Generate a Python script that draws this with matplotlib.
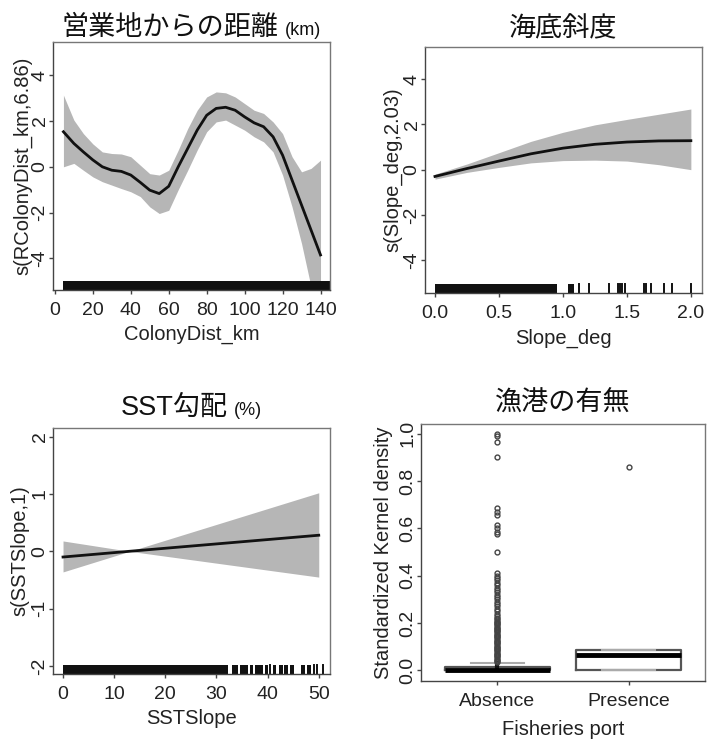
import matplotlib
matplotlib.use("Agg")
import matplotlib.pyplot as plt

plt.rcParams['font.family'] = ['Liberation Sans', 'DejaVu Sans']
plt.rcParams['axes.unicode_minus'] = False
CJK = ['Liberation Sans', 'Noto Sans CJK JP', 'DejaVu Sans']

# ---------------- data ----------------
# Panel 1: colony distance smooth
cd_x = [4.5, 10, 15, 20, 25, 30, 35, 40, 45, 50, 55, 60, 65, 70, 75, 80, 85, 90,
        95, 100, 105, 110, 115, 120, 125, 130, 135, 140]
cd_fit = [1.53, 1.02, 0.65, 0.30, 0.00, -0.15, -0.20, -0.36, -0.68, -1.02, -1.17, -0.85,
          0.00, 0.80, 1.60, 2.25, 2.55, 2.60, 2.47, 2.18, 1.92, 1.75, 1.31, 0.51,
          -0.58, -1.67, -2.76, -3.85]
cd_up = [3.13, 2.04, 1.45, 1.00, 0.65, 0.58, 0.56, 0.44, 0.07, -0.30, -0.36, -0.15,
         0.73, 1.67, 2.47, 3.05, 3.27, 3.23, 3.05, 2.76, 2.47, 2.33, 1.96, 1.45,
         0.44, -0.22, -0.07, 0.29]
cd_lo = [0.00, 0.15, -0.15, -0.44, -0.65, -0.80, -0.95, -1.09, -1.30, -1.75, -2.04, -1.90,
         -1.00, -0.15, 0.73, 1.53, 1.96, 2.04, 1.82, 1.60, 1.31, 1.09, 0.65, -0.36,
         -1.75, -3.35, -5.24, -7.00]
cd_rug_dense = [(4.5, 145.0)]
cd_rug_ticks = []

# Panel 2: slope smooth
sl_x = [0.0, 0.25, 0.5, 0.75, 1.0, 1.25, 1.5, 1.75, 2.0]
sl_fit = [-0.30, 0.05, 0.38, 0.70, 0.95, 1.12, 1.22, 1.27, 1.28]
sl_up = [-0.20, 0.25, 0.75, 1.25, 1.65, 1.98, 2.22, 2.45, 2.68]
sl_lo = [-0.42, -0.12, 0.10, 0.30, 0.40, 0.42, 0.38, 0.22, 0.00]
sl_rug_dense = [(0.0, 0.955), (1.04, 1.09)]
sl_rug_ticks = [1.125, 1.20, 1.36, 1.43, 1.445, 1.46, 1.485, 1.63, 1.65, 1.69, 1.79, 1.85, 2.0]

# Panel 3: SST slope (linear)
ss_x = [0.0, 13.0, 50.0]
ss_fit = [-0.10, 0.00, 0.28]
ss_up = [0.18, 0.00, 1.02]
ss_lo = [-0.36, 0.00, -0.45]
ss_rug_dense = [(0.0, 32.3), (33.1, 34.2), (34.6, 36.2), (36.6, 37.1), (37.6, 39.1),
                (39.4, 40.0), (41.0, 41.6), (42.2, 43.0), (43.3, 43.9), (44.3, 45.2),
                (46.5, 47.4), (47.7, 48.4)]
ss_rug_ticks = [40.4, 49.0, 49.7, 50.8]

# Panel 4: boxplot
bp_labels = ['Absence', 'Presence']
bp_q1 = [0.0, 0.003]
bp_med = [0.0, 0.064]
bp_q3 = [0.014, 0.087]
bp_whislo = [0.0, 0.0]
bp_whishi = [0.033, 0.087]
abs_fliers = [0.035, 0.04, 0.045, 0.05, 0.055, 0.06, 0.065, 0.07, 0.075, 0.08, 0.085,
              0.09, 0.095, 0.10, 0.105, 0.11, 0.115, 0.12, 0.125, 0.13, 0.135, 0.14,
              0.145, 0.15, 0.155, 0.16, 0.165, 0.17, 0.175, 0.18, 0.185, 0.19, 0.195,
              0.20, 0.205, 0.21, 0.215, 0.22, 0.23, 0.24, 0.25, 0.26, 0.27, 0.28,
              0.29, 0.30, 0.31, 0.32, 0.33, 0.34, 0.35, 0.36, 0.37, 0.38, 0.39, 0.40,
              0.41, 0.50, 0.575, 0.585, 0.60, 0.615, 0.655, 0.67, 0.685, 0.90, 0.965,
              0.99, 1.0]
pre_fliers = [0.86]

# ---------------- layout ----------------
W, H = 715, 739
fig = plt.figure(figsize=(W / 100, H / 100), dpi=100)


def add_ax(l, t, r, b):
    return fig.add_axes([l / W, 1 - b / H, (r - l) / W, (b - t) / H])


ax1 = add_ax(53, 42, 330, 290)
ax2 = add_ax(425, 47, 702, 293)
ax3 = add_ax(53, 428, 330, 674)
ax4 = add_ax(421, 424, 705, 681)

BAND = '#b6b6b6'
FRAME = '#777777'
TICKFS = 14
LABFS = 14.5
TXT = '#222222'


def style(ax, xlab, ylab, xlab_top_px, ylab_right_px):
    for s in ax.spines.values():
        s.set_color(FRAME)
        s.set_linewidth(1.0)
    ax.spines['left'].set_color('#444444')
    ax.spines['bottom'].set_color('#444444')
    ax.tick_params(direction='out', length=3.2, width=1, color='#444444',
                   labelsize=TICKFS, labelcolor=TXT)
    ax.tick_params(axis='x', pad=5.5)
    ax.tick_params(axis='y', pad=0, labelrotation=90)
    for lab in ax.get_yticklabels():
        lab.set_verticalalignment('center')
    ax.set_xlabel(xlab, fontsize=LABFS, color=TXT)
    ax.set_ylabel(ylab, fontsize=LABFS, color=TXT)
    bb = ax.get_position()
    hpx = bb.height * H
    wpx = bb.width * W
    ax.xaxis.set_label_coords(0.5, -xlab_top_px / hpx)
    ax.yaxis.set_label_coords(-ylab_right_px / wpx, 0.5)


def rug(ax, dense, ticks):
    for a, b in dense:
        ax.axvspan(a, b, ymin=0, ymax=0.036, color='#111111', lw=0)
    for x in ticks:
        ax.axvline(x, ymin=0, ymax=0.036, color='#111111', lw=1.4)


def smooth(ax, x, fit, lo, up):
    ax.fill_between(x, lo, up, color=BAND, lw=0)
    ax.plot(x, fit, color='#111111', lw=2.0)


# Panel 1
smooth(ax1, cd_x, cd_fit, cd_lo, cd_up)
rug(ax1, cd_rug_dense, cd_rug_ticks)
ax1.set_xlim(-1, 145)
ax1.set_ylim(-5.38, 5.45)
ax1.set_xticks([0, 20, 40, 60, 80, 100, 120, 140])
ax1.set_yticks([-4, -2, 0, 2, 4])
style(ax1, 'ColonyDist_km', 's(RColonyDist_km,6.86)', 35, 21)

# Panel 2
smooth(ax2, sl_x, sl_fit, sl_lo, sl_up)
rug(ax2, sl_rug_dense, sl_rug_ticks)
ax2.set_xlim(-0.078, 2.087)
ax2.set_ylim(-5.45, 5.42)
ax2.set_xticks([0.0, 0.5, 1.0, 1.5, 2.0])
ax2.set_xticklabels(['0.0', '0.5', '1.0', '1.5', '2.0'])
ax2.set_yticks([-4, -2, 0, 2, 4])
style(ax2, 'Slope_deg', 's(Slope_deg,2.03)', 36, 23)

# Panel 3
smooth(ax3, ss_x, ss_fit, ss_lo, ss_up)
rug(ax3, ss_rug_dense, ss_rug_ticks)
ax3.set_xlim(-1.96, 52.2)
ax3.set_ylim(-2.14, 2.15)
ax3.set_xticks([0, 10, 20, 30, 40, 50])
ax3.set_yticks([-2, -1, 0, 1, 2])
style(ax3, 'SSTSlope', 's(SSTSlope,1)', 35, 24)

# Panel 4
stats = []
for i in range(2):
    stats.append(dict(med=bp_med[i], q1=bp_q1[i], q3=bp_q3[i], whislo=bp_whislo[i],
                      whishi=bp_whishi[i],
                      fliers=abs_fliers if i == 0 else pre_fliers, label=bp_labels[i]))
ax4.bxp(stats, positions=[1, 2], widths=0.8, showfliers=True,
        boxprops=dict(color='#555555', lw=1.6),
        medianprops=dict(color='#000000', lw=3.5),
        whiskerprops=dict(color='#111111', lw=3.0),
        capprops=dict(color='#aaaaaa', lw=1.5),
        capwidths=0.4,
        flierprops=dict(marker='o', markersize=3.5, markerfacecolor='none',
                        markeredgecolor='#444444', markeredgewidth=1.0))
ax4.set_xlim(0.42, 2.58)
ax4.set_ylim(-0.045, 1.041)
ax4.set_yticks([0.0, 0.2, 0.4, 0.6, 0.8, 1.0])
ax4.set_yticklabels(['0.0', '0.2', '0.4', '0.6', '0.8', '1.0'])
ax4.set_xticks([1, 2])
ax4.set_xticklabels(bp_labels)
style(ax4, 'Fisheries port', 'Standardized Kernel density', 39, 28)

# ---------------- titles ----------------
TFS = 19.5
fig.canvas.draw()
renderer = fig.canvas.get_renderer()


def title(ax, main, suffix, gap_px):
    axbb = ax.get_window_extent(renderer)
    y = 1 + gap_px / axbb.height
    t1 = ax.text(0.5, y, main, transform=ax.transAxes, ha='left', va='baseline',
                 fontsize=TFS, fontweight='normal', family=CJK, color='#111111')
    parts = [t1]
    if suffix:
        t2 = ax.text(0.5, y, suffix, transform=ax.transAxes, ha='left', va='baseline',
                     fontsize=13, family=['Liberation Sans'], color='#111111')
        parts.append(t2)
    widths = [p.get_window_extent(renderer).width for p in parts]
    gap = 6 if suffix else 0
    total = sum(widths) + gap
    x0 = 0.5 - total / 2 / axbb.width
    parts[0].set_x(x0)
    if suffix:
        parts[1].set_x(x0 + (widths[0] + gap) / axbb.width)


title(ax1, '営業地からの距離', '(km)', 7)
title(ax2, '海底斜度', None, 11)
title(ax3, 'SST勾配', '(%)', 13)
title(ax4, '漁港の有無', None, 13)

fig.savefig('out.png', dpi=100, facecolor='white')
